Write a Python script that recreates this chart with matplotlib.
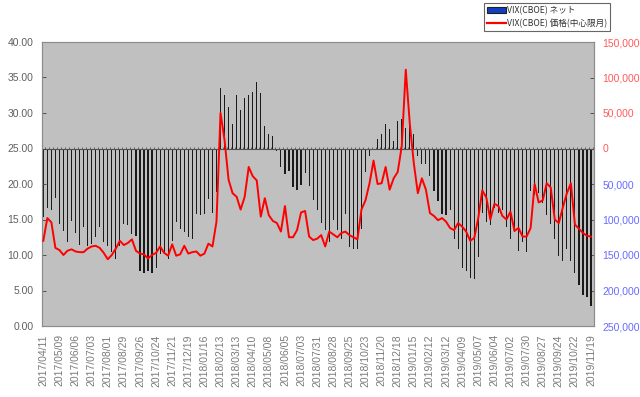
import numpy as np
import matplotlib
matplotlib.use("Agg")
import matplotlib.pyplot as plt
from matplotlib.patches import Patch
from matplotlib.lines import Line2D
from matplotlib.ticker import FuncFormatter, MultipleLocator, FixedLocator

# ---- data ----
tick_labels = [
    "2017/04/11", "2017/05/09", "2017/06/06", "2017/07/03", "2017/08/01", "2017/08/29",
    "2017/09/26", "2017/10/24", "2017/11/21", "2017/12/19", "2018/01/16", "2018/02/13",
    "2018/03/13", "2018/04/10", "2018/05/08", "2018/06/05", "2018/07/03", "2018/07/31",
    "2018/08/28", "2018/09/25", "2018/10/23", "2018/11/20", "2018/12/18", "2019/01/15",
    "2019/02/12", "2019/03/12", "2019/04/09", "2019/05/07", "2019/06/04", "2019/07/02",
    "2019/07/30", "2019/08/27", "2019/09/24", "2019/10/22", "2019/11/19",
]

# VIX(CBOE) net position (contracts)
net_position = [
    -96000, -84000, -86000, -70000, -107000, -116000, -132000, -102000, -119000, -136000,
    -111000, -138000, -135000, -125000, -111000, -132000, -137000, -146000, -155000, -137000,
    -106000, -108000, -120000, -123000, -172000, -175000, -172000, -176000, -169000, -148000,
    -148000, -155000, -130000, -104000, -113000, -117000, -124000, -128000, -92000, -93000,
    -92000, -71000, -91000, -61000, 85000, 75000, 59000, 35000, 76000, 54000,
    71000, 75000, 79000, 93000, 78000, 32000, 20000, 17000, -3000, -26000,
    -36000, -31000, -54000, -58000, -51000, -35000, -53000, -72000, -87000, -105000,
    -115000, -132000, -101000, -115000, -127000, -92000, -139000, -141000, -141000, -113000,
    -33000, -10000, -1000, 13000, 21000, 35000, 27000, 11000, 39000, 42000,
    29000, 39000, 21000, -10000, -22000, -22000, -39000, -60000, -74000, -92000,
    -94000, -87000, -128000, -141000, -168000, -172000, -182000, -184000, -153000, -91000,
    -103000, -108000, -84000, -91000, -87000, -110000, -127000, -118000, -144000, -132000,
    -146000, -60000, -65000, -63000, -77000, -94000, -106000, -127000, -151000, -158000,
    -141000, -158000, -175000, -192000, -207000, -209000, -222000,
]

# VIX(CBOE) price (front/central month)
vix_price = [
    12.0, 15.2, 14.6, 11.0, 10.7, 10.0, 10.6, 10.8, 10.5, 10.4,
    10.4, 10.9, 11.2, 11.3, 11.0, 10.3, 9.4, 10.0, 10.9, 12.0,
    11.4, 11.7, 12.2, 10.6, 10.2, 10.1, 9.5, 10.0, 10.3, 11.2,
    10.3, 9.9, 11.5, 9.9, 10.1, 11.3, 10.2, 10.4, 10.5, 9.9,
    10.2, 11.6, 11.2, 14.7, 30.0, 26.2, 20.6, 18.7, 18.2, 16.4,
    18.2, 22.4, 21.1, 20.5, 15.4, 18.0, 15.6, 14.8, 14.5, 13.3,
    16.9, 12.5, 12.5, 13.5, 16.0, 16.2, 12.6, 12.1, 12.3, 12.8,
    11.2, 13.3, 12.9, 12.5, 13.1, 13.3, 12.8, 12.5, 12.2, 16.4,
    17.7, 20.1, 23.3, 20.0, 20.1, 22.4, 19.2, 20.8, 21.7, 25.3,
    36.1, 28.5, 22.9, 18.7, 20.8, 19.2, 15.9, 15.5, 14.9, 15.2,
    14.7, 13.8, 13.5, 14.5, 14.0, 13.3, 12.0, 12.4, 15.2, 19.1,
    18.1, 15.0, 17.2, 16.9, 15.5, 15.0, 16.1, 13.4, 13.8, 12.6,
    12.6, 13.8, 20.0, 17.4, 17.7, 20.1, 19.5, 15.0, 14.5, 16.7,
    18.7, 20.1, 14.3, 13.7, 13.1, 12.7, 12.6,
]

legend_labels = ["VIX(CBOE) ネット", "VIX(CBOE) 価格(中心限月)"]

# ---- figure ----
plt.rcParams['font.family'] = ['Liberation Sans', 'Noto Sans CJK JP', 'DejaVu Sans']

fig = plt.figure(figsize=(6.4, 3.97), dpi=100)
fig.patch.set_facecolor('white')

W, H = 640.0, 397.0
left_px, right_px, top_px, bot_px = 41.7, 594.0, 42.0, 326.0
ax = fig.add_axes([left_px / W, 1 - bot_px / H, (right_px - left_px) / W, (bot_px - top_px) / H])
ax.set_facecolor('#C0C0C0')
ax2 = ax.twinx()

x = np.arange(len(net_position))

# bars (net position) on the right-hand scale
ax.bar(x, net_position, width=0.28, color='#1a1a1a', edgecolor='none', zorder=2)
ax.set_ylim(-250000, 150000)
ax.set_xlim(-0.4, len(x) - 1 + 0.74)
ax.yaxis.tick_right()
ax.yaxis.set_label_position('right')
ax.yaxis.set_major_locator(MultipleLocator(50000))
ax.yaxis.set_major_formatter(FuncFormatter(lambda v, p: f"{abs(int(round(v))):,}"))
ax.tick_params(axis='y', direction='in', length=3, width=0.6, color='#404040',
               labelsize=7.5, pad=6, left=False, labelleft=False, right=True, labelright=True)

# category axis line at zero with small ticks
ax.axhline(0, color='#505050', lw=0.8, zorder=3)
ax.vlines(np.arange(-0.5, len(x), 1.0), 0, 2500, color='#505050', lw=0.6, zorder=3)

# x tick labels
tick_pos = np.arange(0, len(x), 4)
ax.xaxis.set_major_locator(FixedLocator(tick_pos))
ax.set_xticklabels(tick_labels, rotation=90, fontsize=7.5, color='#7a7a7a')
ax.tick_params(axis='x', length=0, pad=6)

# line (price) on the left-hand scale
ax2.plot(x, vix_price, color='#FF0000', lw=1.4, zorder=5)
ax2.set_ylim(0, 40)
ax2.yaxis.tick_left()
ax2.yaxis.set_label_position('left')
ax2.yaxis.set_major_locator(MultipleLocator(5))
ax2.yaxis.set_major_formatter(FuncFormatter(lambda v, p: f"{v:.2f}"))
ax2.tick_params(axis='y', direction='in', length=3, width=0.6, color='#404040',
                labelsize=7.5, labelcolor='#606060', pad=6,
                left=True, labelleft=True, right=False, labelright=False)

# colour right-axis labels: positive/zero red, negative blue
fig.canvas.draw()
for t in ax.get_yticklabels():
    pos = t.get_position()[1]
    t.set_color('#FF5a5a' if pos >= 0 else '#6a6aFF')

for a in (ax, ax2):
    for s in a.spines.values():
        s.set_color('#8C8C8C')
        s.set_linewidth(0.8)

# legend
handles = [Patch(facecolor='#1040C0', edgecolor='#202020', linewidth=0.8),
           Line2D([0], [0], color='#FF0000', lw=1.6)]
leg = fig.legend(handles, legend_labels, loc='upper right',
                 bbox_to_anchor=(610 / W, 1 - 3 / H), frameon=True, fancybox=False,
                 handlelength=2.2, handleheight=0.6, handletextpad=0.15,
                 labelspacing=0.4, borderpad=0.35, borderaxespad=0,
                 prop={'family': ['Noto Sans CJK JP', 'DejaVu Sans'], 'size': 6.2})
leg.get_frame().set_edgecolor('#404040')
leg.get_frame().set_linewidth(0.8)
for t in leg.get_texts():
    t.set_color('#303030')

fig.savefig('out.png', dpi=100, facecolor='white')
